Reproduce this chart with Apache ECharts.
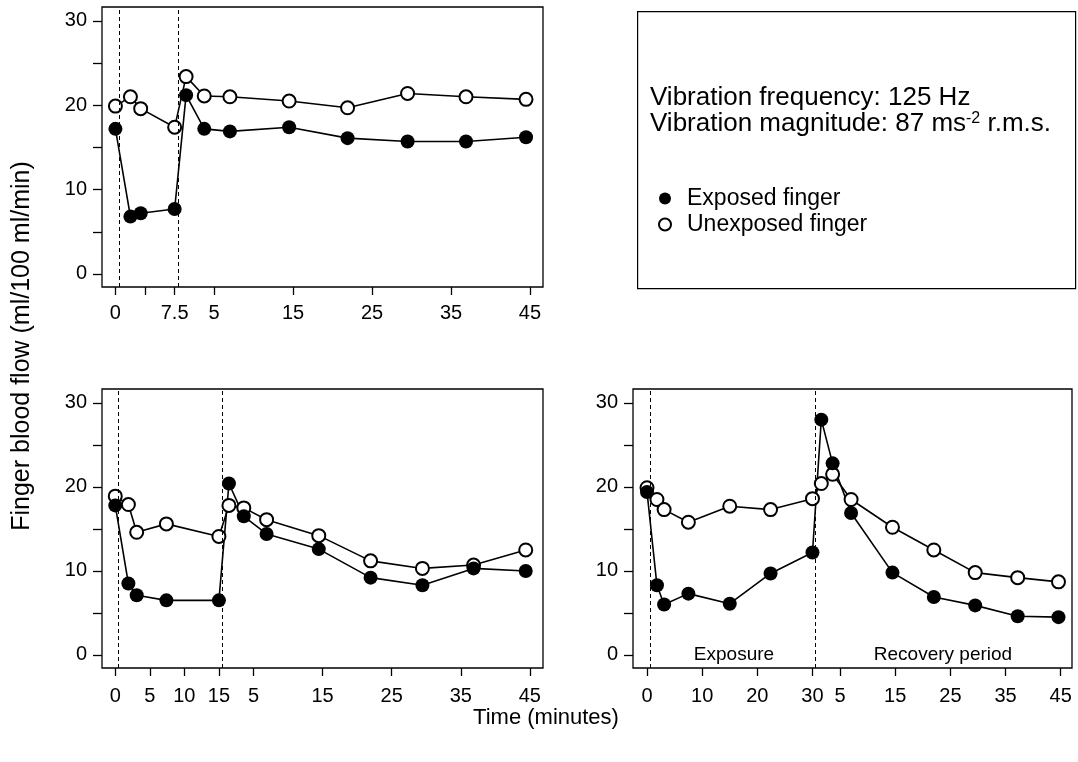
<!DOCTYPE html>
<html lang="en">
<head>
    <meta charset="UTF-8">
    <title>Finger blood flow</title>
    <script src="https://cdn.jsdelivr.net/npm/echarts@6/dist/echarts.min.js"></script>
</head>
<body style="margin:0;background:#fff;">
<div id="chart" style="width:1078px;height:762px;"></div>
<script>
    // times in minutes: exposure phase and recovery phase
    var tlExpTime = [0, 1.9, 3.2, 7.5];
    var tlRecTime = [1.45, 3.75, 7, 14.5, 21.9, 29.5, 36.9, 44.5];
    var tlExposed = [17.2, 6.8, 7.2, 7.7, 21.2, 17.2, 16.9, 17.4, 16.1, 15.7, 15.7, 16.2];
    var tlUnexposed = [19.9, 21.0, 19.6, 17.4, 23.4, 21.1, 21.0, 20.5, 19.7, 21.4, 21.0, 20.7];

    var blExpTime = [0, 1.9, 3.1, 7.4, 15];
    var blRecTime = [1.45, 3.6, 6.9, 14.45, 21.95, 29.45, 36.85, 44.4];
    var blExposed = [17.8, 8.5, 7.1, 6.5, 6.5, 20.4, 16.5, 14.4, 12.6, 9.2, 8.3, 10.3, 10.0];
    var blUnexposed = [18.9, 17.9, 14.6, 15.6, 14.1, 17.8, 17.5, 16.1, 14.2, 11.2, 10.3, 10.7, 12.5];

    var brExpTime = [0, 1.8, 3.1, 7.5, 15, 22.4, 30];
    var brRecTime = [1.6, 3.65, 7, 14.5, 22, 29.5, 37.2, 44.6];
    var brExposed = [19.4, 8.3, 6.0, 7.3, 6.1, 9.7, 12.2, 28.0, 22.8, 16.9, 9.8, 6.9, 5.9, 4.6, 4.5];
    var brUnexposed = [19.9, 18.5, 17.3, 15.8, 17.7, 17.3, 18.6, 20.4, 21.5, 18.5, 15.2, 12.5, 9.8, 9.2, 8.7];

    // exposure length of each panel (min) and exposure start (dashed lines)
    var expLength = [7.5, 15, 30];
    var expStart = 0.5;

    // tick labels
    var tlExpTicks = [0, 3.75, 7.5];
    var tlExpTickLabels = ['0', '', '7.5'];
    var blExpTicks = [0, 5, 10, 15];
    var blExpTickLabels = ['0', '5', '10', '15'];
    var brExpTicks = [0, 10, 20, 30];
    var brExpTickLabels = ['0', '10', '20', '30'];
    var recTicks = [5, 15, 25, 35, 45];
    var recTickLabels = ['5', '15', '25', '35', '45'];
    var yTicks = [0, 5, 10, 15, 20, 25, 30];
    var yTickLabels = ['0', '', '10', '', '20', '', '30'];

    var font = 'Liberation Sans, Arial, Helvetica, sans-serif';

    var panels = [
        {expTime: tlExpTime, recTime: tlRecTime, exposed: tlExposed, unexposed: tlUnexposed,
         expTicks: tlExpTicks, expLabels: tlExpTickLabels, exp: expLength[0],
         grid: {left: 102, top: 7, width: 441, height: 280}, xMin: -1.7, xMax: 54.15, labelMargin: 16},
        {expTime: blExpTime, recTime: blRecTime, exposed: blExposed, unexposed: blUnexposed,
         expTicks: blExpTicks, expLabels: blExpTickLabels, exp: expLength[1],
         grid: {left: 102, top: 389, width: 441, height: 279}, xMin: -1.92, xMax: 61.9, labelMargin: 18},
        {expTime: brExpTime, recTime: brRecTime, exposed: brExposed, unexposed: brUnexposed,
         expTicks: brExpTicks, expLabels: brExpTickLabels, exp: expLength[2],
         grid: {left: 633, top: 389, width: 439, height: 279}, xMin: -2.54, xMax: 77.05, labelMargin: 18}
    ];

    var grids = [], xAxes = [], yAxes = [], series = [];

    panels.forEach(function (p, i) {
        // one x scale: exposure minutes, then recovery minutes placed after the exposure
        var xs = p.expTime.concat(p.recTime.map(function (t) { return p.exp + t; }));
        var tickPos = p.expTicks.concat(recTicks.map(function (t) { return p.exp + t; }));
        var tickText = p.expLabels.concat(recTickLabels);
        var labelOf = {};
        tickPos.forEach(function (v, k) { labelOf[v] = tickText[k]; });
        var yLabelOf = {};
        yTicks.forEach(function (v, k) { yLabelOf[v] = yTickLabels[k]; });

        grids.push(Object.assign({show: true, borderColor: '#000', borderWidth: 1.3, backgroundColor: '#fff'}, p.grid));
        xAxes.push({
            type: 'value', gridIndex: i, min: p.xMin, max: p.xMax,
            axisLine: {show: false, onZero: false},
            splitLine: {show: false},
            axisTick: {show: true, inside: false, length: 8, customValues: tickPos,
                lineStyle: {color: '#000', width: 1.3}},
            axisLabel: {show: true, customValues: tickPos, margin: p.labelMargin, color: '#000',
                fontSize: 20, fontFamily: font,
                formatter: function (v) { return labelOf[v] !== undefined ? labelOf[v] : ''; }}
        });
        yAxes.push({
            type: 'value', gridIndex: i, min: -1.55, max: 31.65,
            axisLine: {show: false, onZero: false},
            splitLine: {show: false},
            axisTick: {show: true, inside: false, length: 9, customValues: yTicks,
                lineStyle: {color: '#000', width: 1.3}},
            axisLabel: {show: true, customValues: yTicks, margin: 15, color: '#000',
                fontSize: 20, fontFamily: font,
                formatter: function (v) { return yLabelOf[v] !== undefined ? yLabelOf[v] : ''; }}
        });

        series.push({
            name: 'Unexposed finger', type: 'line', xAxisIndex: i, yAxisIndex: i,
            data: xs.map(function (x, k) { return [x, p.unexposed[k]]; }),
            symbol: 'circle', symbolSize: 13, showSymbol: true, showAllSymbol: true,
            lineStyle: {color: '#000', width: 1.6},
            itemStyle: {color: '#fff', borderColor: '#000', borderWidth: 2},
            markLine: {
                silent: true, symbol: 'none', animation: false,
                label: {show: false},
                lineStyle: {color: '#000', width: 1, type: [4, 3]},
                data: [{xAxis: expStart}, {xAxis: p.exp + expStart}]
            }
        });
        series.push({
            name: 'Exposed finger', type: 'line', xAxisIndex: i, yAxisIndex: i,
            data: xs.map(function (x, k) { return [x, p.exposed[k]]; }),
            symbol: 'circle', symbolSize: 14, showSymbol: true, showAllSymbol: true,
            lineStyle: {color: '#000', width: 1.6},
            itemStyle: {color: '#000', borderColor: '#000', borderWidth: 0}
        });
    });

    var ct = echarts.init(document.getElementById('chart'));
    var option = {
        animation: false,
        backgroundColor: '#fff',
        grid: grids,
        xAxis: xAxes,
        yAxis: yAxes,
        series: series,
        legend: {
            orient: 'vertical', left: 653, top: 182, itemGap: 3,
            icon: 'circle', itemWidth: 34, itemHeight: 12,
            data: ['Exposed finger', 'Unexposed finger'],
            textStyle: {color: '#000', fontSize: 23, fontFamily: font}
        },
        graphic: [
            {type: 'rect', left: 637, top: 11, z: -1,
             shape: {width: 438, height: 277},
             style: {fill: '#fff', stroke: '#000', lineWidth: 1.2}},
            {type: 'text', x: 650, y: 98,
             style: {text: 'Vibration frequency: 125 Hz', fill: '#000', font: '26px ' + font,
                 verticalAlign: 'middle'}},
            {type: 'text', x: 650, y: 124,
             style: {text: 'Vibration magnitude: 87 ms{sup|-2} r.m.s.', fill: '#000',
                 font: '26px ' + font, verticalAlign: 'middle',
                 rich: {sup: {fontSize: 16, fontFamily: font, verticalAlign: 'top', lineHeight: 26}}}},
            {type: 'text', x: 734, y: 655,
             style: {text: 'Exposure', fill: '#000', font: '19px ' + font,
                 align: 'center', verticalAlign: 'middle'}},
            {type: 'text', x: 943, y: 655,
             style: {text: 'Recovery period', fill: '#000', font: '19px ' + font,
                 align: 'center', verticalAlign: 'middle'}},
            {type: 'text', x: 546, y: 718,
             style: {text: 'Time (minutes)', fill: '#000', font: '22px ' + font,
                 align: 'center', verticalAlign: 'middle'}},
            {type: 'text', x: 22, y: 346, rotation: Math.PI / 2,
             style: {text: 'Finger blood flow (ml/100 ml/min)', fill: '#000', font: '25px ' + font,
                 align: 'center', verticalAlign: 'middle'}}
        ]
    };
    ct.setOption(option);
</script>
</body>
</html>
